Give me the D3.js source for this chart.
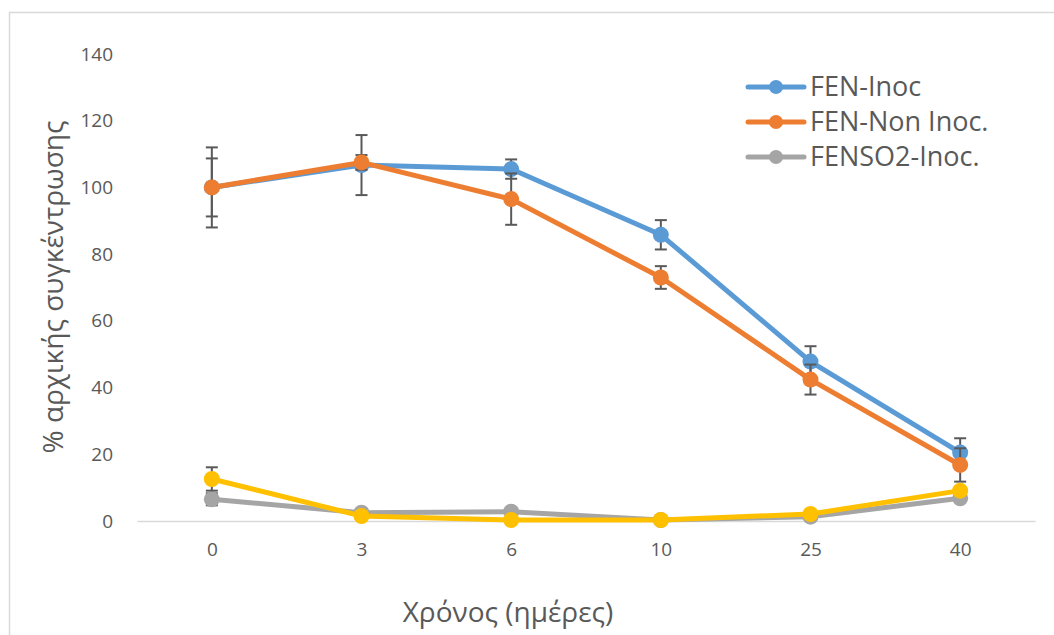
<!DOCTYPE html>
<html>
<head>
<meta charset="utf-8">
<script src="https://cdn.jsdelivr.net/npm/d3@7"></script>
<style>
  body { margin: 0; background: #fff; }
  svg text { font-family: "Open Sans", "DejaVu Sans", sans-serif; fill: #595959; }
</style>
</head>
<body>
<script>
// days on the x axis (categorical)
const days = ["0", "3", "6", "10", "25", "40"];
const yTicks = [0, 20, 40, 60, 80, 100, 120, 140];

// series values (% of initial concentration) and their error bars
const fenInoc = [100, 106.7, 105.5, 85.8, 47.8, 20.5];
const fenInocErr = [12, 9, 2.9, 4.4, 4.6, 4.3];
const fenNonInoc = [100, 107.5, 96.5, 73, 42.4, 16.8];
const fenNonInocErr = [8.7, 2.2, 7.7, 3.4, 4.5, 5];
const fenso2Inoc = [6.5, 2.5, 2.8, 0.3, 1.3, 6.8];
const fenso2InocErr = [1.8, 0, 0, 0, 0, 0];
const fenso2NonInoc = [12.6, 1.5, 0.3, 0.3, 2.1, 9.1];
const fenso2NonInocErr = [3.5, 0, 0, 0, 0, 0];

const series = [
  { name: "FEN-Inoc", values: fenInoc, err: fenInocErr, color: "#5b9bd5", legend: true },
  { name: "FEN-Non Inoc.", values: fenNonInoc, err: fenNonInocErr, color: "#ed7d31", legend: true },
  { name: "FENSO2-Inoc.", values: fenso2Inoc, err: fenso2InocErr, color: "#a5a5a5", legend: true },
  { name: "FENSO2-Non Inoc.", values: fenso2NonInoc, err: fenso2NonInocErr, color: "#ffc000", legend: false }
];

const W = 1054, H = 635;
const plot = { left: 137, right: 1035, top: 54, bottom: 521 };

const svg = d3.select("body").append("svg")
    .attr("width", W)
    .attr("height", H);

// chart frame (runs off the right and bottom edge)
svg.append("rect")
    .attr("x", 9.5).attr("y", 12.5)
    .attr("width", W + 20).attr("height", H + 20)
    .attr("fill", "none")
    .attr("stroke", "#d9d9d9")
    .attr("stroke-width", 1.5);

const x = d3.scalePoint()
    .domain(days)
    .range([plot.left, plot.right])
    .padding(0.5);

const y = d3.scaleLinear()
    .domain([0, 140])
    .range([plot.bottom, plot.top]);

// y tick labels (no axis line, no gridlines)
const yAxis = svg.append("g")
    .attr("transform", "translate(" + (plot.left - 24) + ",0)")
    .call(d3.axisLeft(y).tickValues(yTicks).tickSize(0).tickPadding(0));
yAxis.select(".domain").remove();
yAxis.selectAll("text")
    .style("font-size", "19px")
    .attr("text-anchor", "end");

// x axis: a light line with labels below
const xAxis = svg.append("g")
    .attr("transform", "translate(0," + plot.bottom + ")")
    .call(d3.axisBottom(x).tickSize(0).tickPadding(22));
xAxis.select(".domain")
    .attr("stroke", "#d9d9d9")
    .attr("stroke-width", 1.5);
xAxis.selectAll("text").style("font-size", "19px");

// axis titles
svg.append("text")
    .attr("transform", "translate(63,287) rotate(-90)")
    .attr("text-anchor", "middle")
    .style("font-size", "28px")
    .text("% αρχικής συγκέντρωσης");

svg.append("text")
    .attr("x", 508)
    .attr("y", 622)
    .attr("text-anchor", "middle")
    .style("font-size", "28px")
    .text("Χρόνος (ημέρες)");

const line = d3.line()
    .x((d, i) => x(days[i]))
    .y(d => y(d));

series.forEach(function(s) {
  const g = svg.append("g");

  // error bars
  const bars = g.selectAll("g.err")
      .data(s.values.map((v, i) => ({ day: days[i], v: v, e: s.err[i] })).filter(d => d.e > 0))
      .enter().append("g")
      .attr("class", "err")
      .attr("stroke", "#595959")
      .attr("stroke-width", 2);
  bars.append("line")
      .attr("x1", d => x(d.day)).attr("x2", d => x(d.day))
      .attr("y1", d => y(d.v + d.e)).attr("y2", d => y(d.v - d.e));
  bars.append("line")
      .attr("x1", d => x(d.day) - 6).attr("x2", d => x(d.day) + 6)
      .attr("y1", d => y(d.v + d.e)).attr("y2", d => y(d.v + d.e));
  bars.append("line")
      .attr("x1", d => x(d.day) - 6).attr("x2", d => x(d.day) + 6)
      .attr("y1", d => y(d.v - d.e)).attr("y2", d => y(d.v - d.e));

  g.append("path")
      .attr("d", line(s.values))
      .attr("fill", "none")
      .attr("stroke", s.color)
      .attr("stroke-width", 5)
      .attr("stroke-linejoin", "round")
      .attr("stroke-linecap", "round");

  g.selectAll("circle")
      .data(s.values)
      .enter().append("circle")
      .attr("cx", (d, i) => x(days[i]))
      .attr("cy", d => y(d))
      .attr("r", 8)
      .attr("fill", s.color);
});

// legend
const legend = svg.append("g")
    .attr("transform", "translate(748,87)");
const item = legend.selectAll("g")
    .data(series.filter(s => s.legend))
    .enter().append("g")
    .attr("transform", (d, i) => "translate(0," + i * 35 + ")");
item.append("line")
    .attr("x1", 0).attr("x2", 56)
    .attr("stroke", d => d.color)
    .attr("stroke-width", 5)
    .attr("stroke-linecap", "round");
item.append("circle")
    .attr("cx", 28).attr("r", 7)
    .attr("fill", d => d.color);
item.append("text")
    .attr("x", 62)
    .attr("dy", "0.35em")
    .style("font-size", "27px")
    .text(d => d.name);
</script>
</body>
</html>
